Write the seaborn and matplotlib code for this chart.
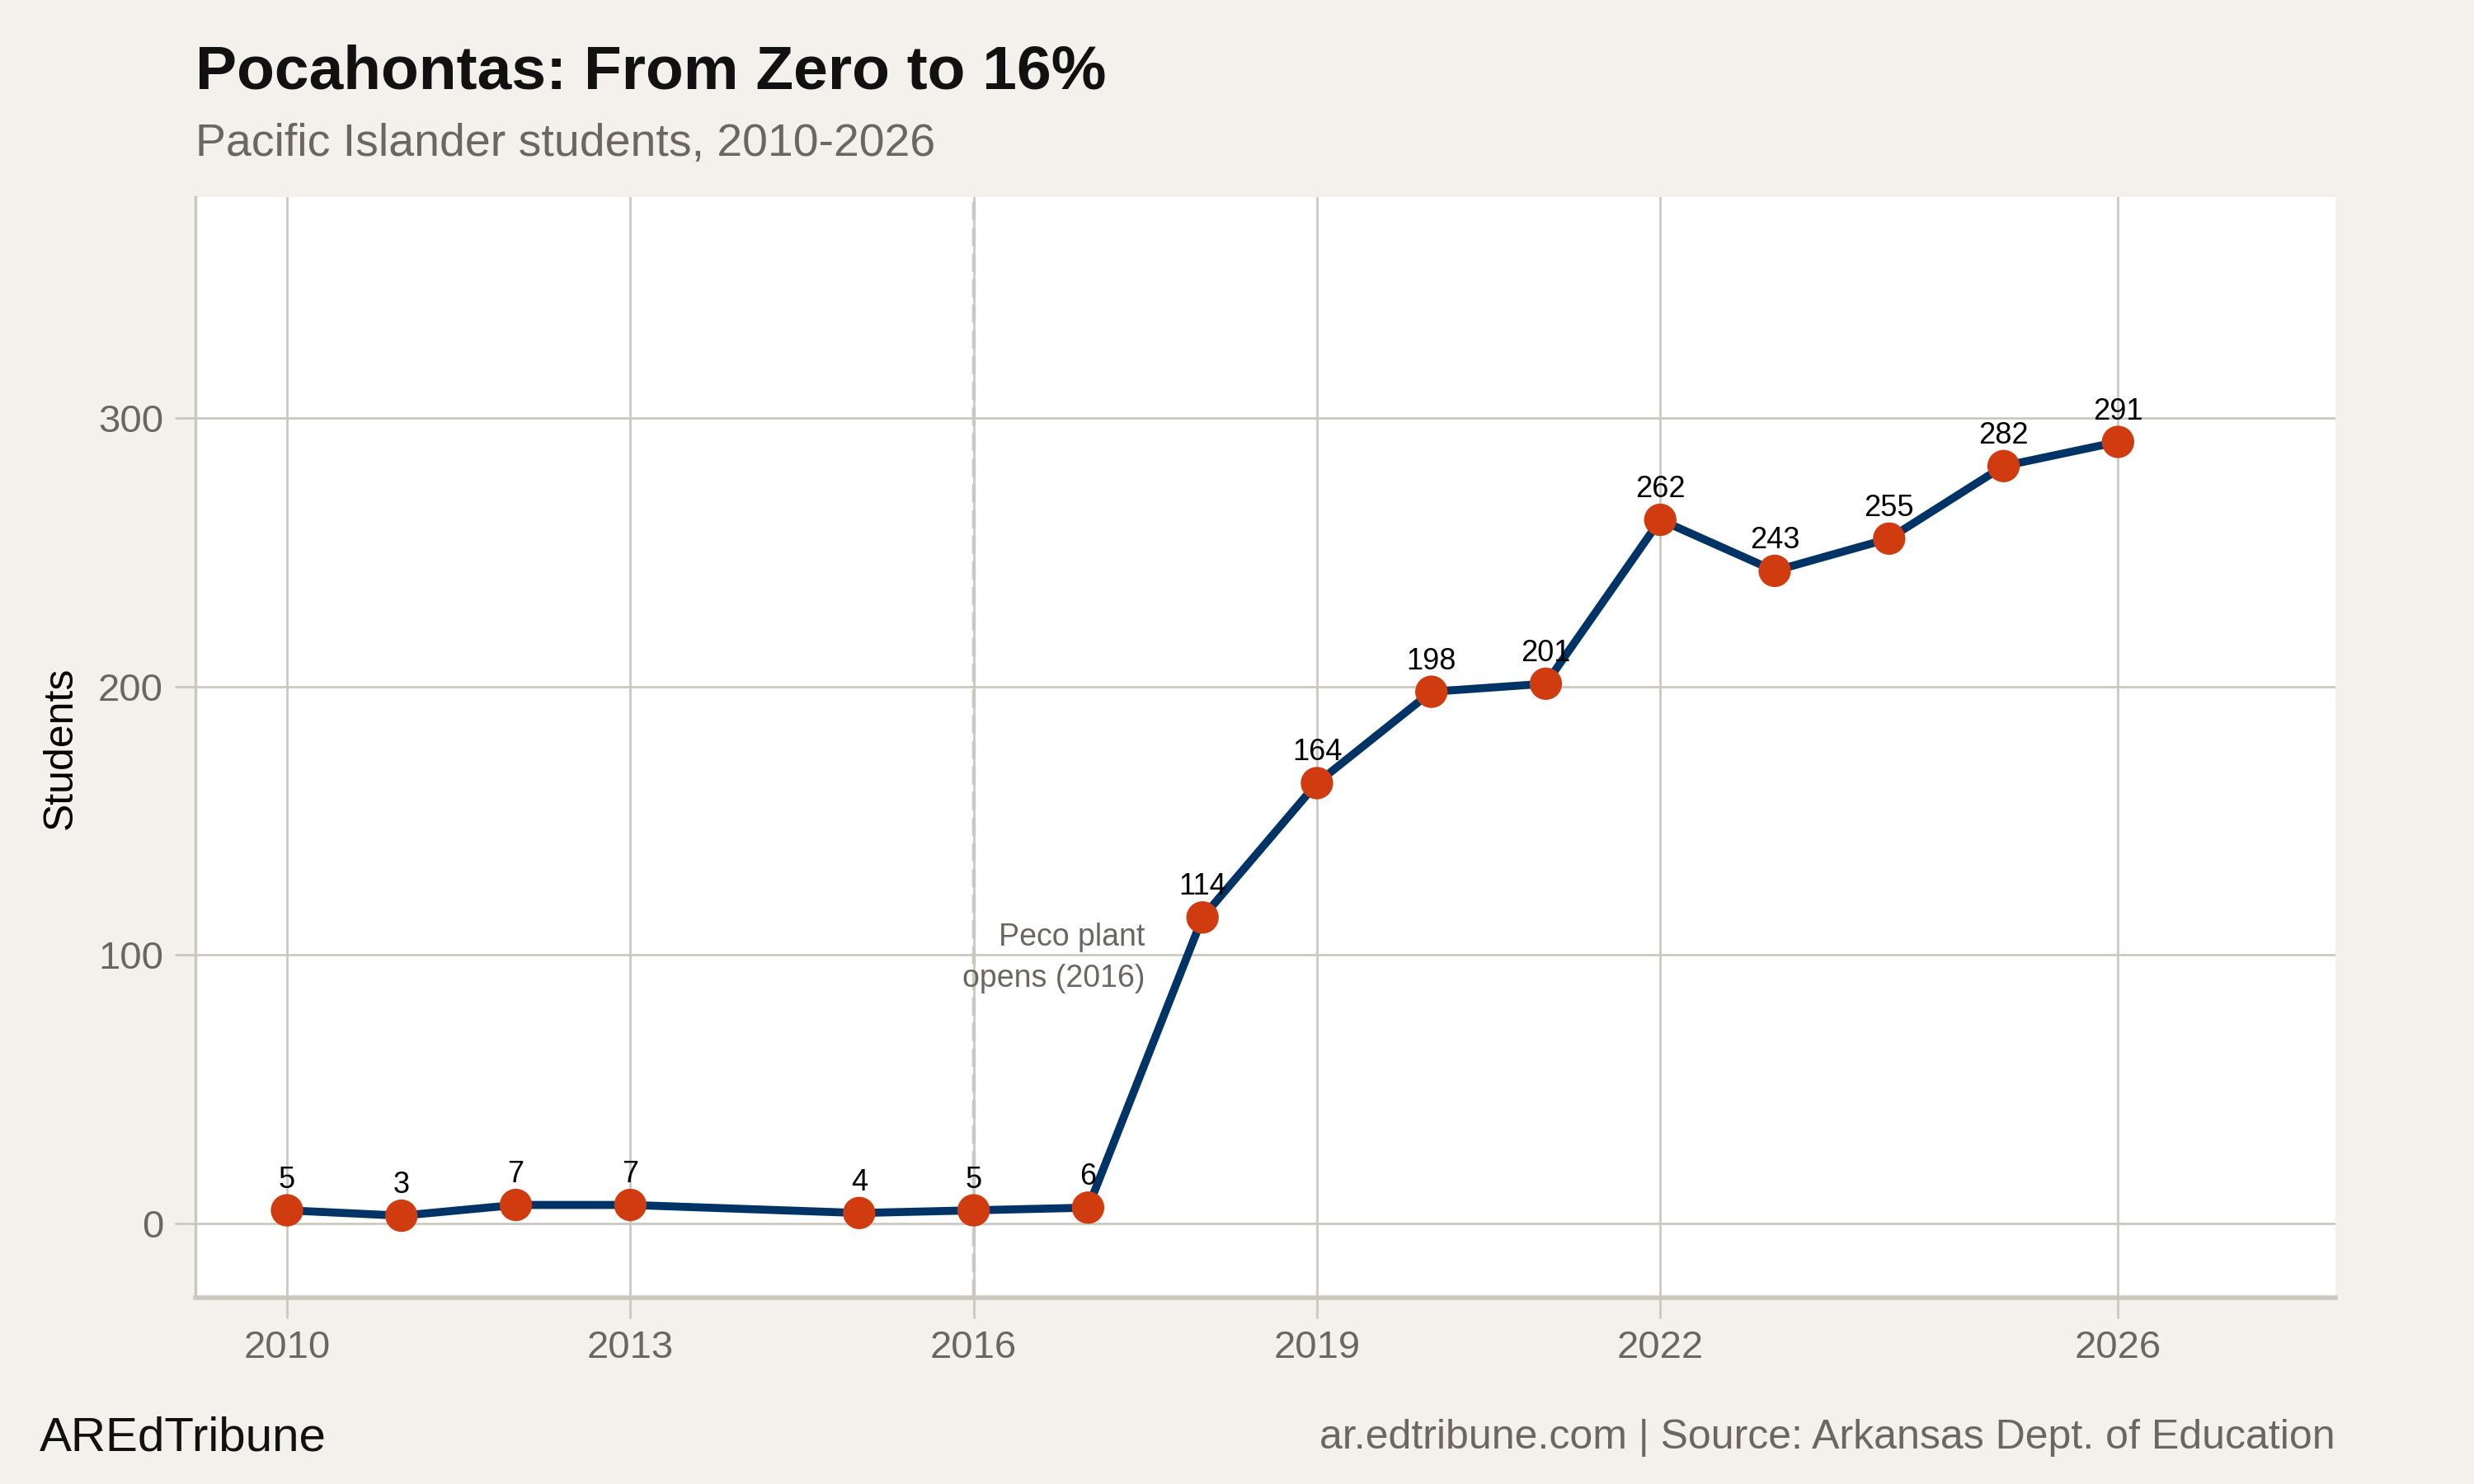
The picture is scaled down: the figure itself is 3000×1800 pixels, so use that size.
import matplotlib.pyplot as plt
import pandas as pd
import seaborn as sns

# Data (2014 has no value)
years = [2010, 2011, 2012, 2013, 2015, 2016, 2017, 2018, 2019, 2020, 2021, 2022, 2023, 2024, 2025, 2026]
students = [5, 3, 7, 7, 4, 5, 6, 114, 164, 198, 201, 262, 243, 255, 282, 291]
x_ticks = [2010, 2013, 2016, 2019, 2022, 2026]
y_ticks = [0, 100, 200, 300]

df = pd.DataFrame({"year": years, "students": students})

BG = "#f4f1ec"
GRID = "#cdc8bf"
GREY_TXT = "#6b6660"
NAVY = "#003366"
ORANGE = "#d13b10"

sns.set_theme(style="whitegrid", rc={
    "figure.facecolor": BG,
    "axes.facecolor": "white",
    "grid.color": GRID,
    "grid.linewidth": 1.0,
    "axes.edgecolor": GRID,
})
plt.rcParams["font.family"] = ["Liberation Sans", "DejaVu Sans"]

fig = plt.figure(figsize=(15, 9), dpi=200)
ax = fig.add_axes([0.079, 0.1254, 0.865, 0.7416])

sns.lineplot(data=df, x="year", y="students", color=NAVY, linewidth=3.5, ax=ax, zorder=3)
sns.scatterplot(data=df, x="year", y="students", color=ORANGE, s=200, edgecolor="none", ax=ax, zorder=4)

for yr, val in zip(years, students):
    ax.annotate(str(val), (yr, val), xytext=(0, 7), textcoords="offset points",
                ha="center", va="bottom", fontsize=13, color="black", zorder=5)

# 2016 marker line and note
ax.axvline(2016, color=GRID, linestyle=(0, (5, 2)), linewidth=1.6, zorder=2)
ax.text(2017.5, 99, "Peco plant\nopens (2016)", ha="right", va="center",
        fontsize=13.5, color=GREY_TXT, linespacing=1.5, zorder=5)

ax.set_xlim(2009.2, 2027.9)
ax.set_ylim(-27.6, 382)
ax.set_xticks(x_ticks)
ax.set_yticks(y_ticks)
ax.set_xlabel("")
ax.set_ylabel("Students", fontsize=18, color="black", labelpad=8)
ax.tick_params(axis="both", colors=GRID, labelcolor=GREY_TXT, labelsize=17,
               length=9, width=1, direction="out", left=True, bottom=True, pad=5)

for side in ["top", "right"]:
    ax.spines[side].set_visible(False)
ax.spines["left"].set_color(GRID)
ax.spines["bottom"].set_color(GRID)
ax.spines["bottom"].set_linewidth(2)

fig.text(0.079, 0.951, "Pocahontas: From Zero to 16%", fontsize=27, fontweight="bold",
         color="#111111", ha="left", va="center")
fig.text(0.079, 0.903, "Pacific Islander students, 2010-2026", fontsize=20,
         color=GREY_TXT, ha="left", va="center")
fig.text(0.016, 0.031, "AREdTribune", fontsize=21, color="#111111", ha="left", va="center")
fig.text(0.944, 0.031, "ar.edtribune.com | Source: Arkansas Dept. of Education", fontsize=18,
         color=GREY_TXT, ha="right", va="center")

fig.savefig("out.png", dpi=200, facecolor=BG)
